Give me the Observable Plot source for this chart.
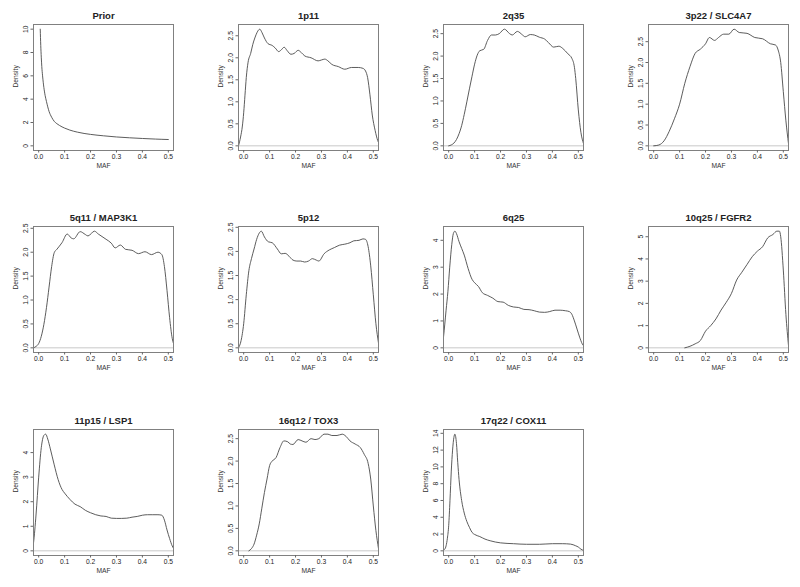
<!DOCTYPE html>
<html><head><meta charset="utf-8">
<script src="https://cdn.jsdelivr.net/npm/d3@7"></script>
<script src="https://cdn.jsdelivr.net/npm/@observablehq/plot@0.6"></script>
<style>
html,body{margin:0;padding:0;background:#fff;}
#chart{position:relative;width:800px;height:587px;overflow:hidden;font-family:"Liberation Sans",Arial,sans-serif;}
.panel{position:absolute;}
</style></head><body><div id="chart"></div>
<script>
const titles = ["Prior","1p11","2q35","3p22 / SLC4A7","5q11 / MAP3K1","5p12","6q25","10q25 / FGFR2","11p15 / LSP1","16q12 / TOX3","17q22 / COX11"];
const xTicks = [0, 0.1, 0.2, 0.3, 0.4, 0.5];

const prior_x = [0.006,0.008,0.01,0.012,0.015,0.02,0.025,0.03,0.04,0.05,0.06,0.07,0.08,0.1,0.12,0.15,0.2,0.25,0.3,0.35,0.4,0.45,0.5];
const prior_y = [10.0,8.6,7.6,6.8,6.0,5.0,4.3,3.8,2.95,2.45,2.1,1.9,1.75,1.52,1.35,1.17,0.98,0.86,0.76,0.69,0.63,0.58,0.54];

const p1p11_x = [-0.02,-0.012,-0.005,0.0,0.005,0.01,0.017,0.027,0.035,0.043,0.052,0.062,0.07,0.08,0.094,0.11,0.122,0.135,0.145,0.156,0.168,0.182,0.195,0.21,0.222,0.236,0.26,0.287,0.3,0.313,0.325,0.34,0.365,0.39,0.416,0.442,0.46,0.47,0.478,0.487,0.496,0.507,0.517,0.525];
const p1p11_y = [0.0,0.2,0.45,0.75,1.15,1.55,1.9,2.1,2.3,2.45,2.58,2.65,2.58,2.45,2.32,2.28,2.22,2.14,2.18,2.24,2.16,2.08,2.1,2.17,2.12,2.04,2.0,1.93,1.95,1.97,1.93,1.85,1.8,1.74,1.78,1.78,1.76,1.7,1.55,1.16,0.7,0.35,0.12,0.03];

const p2q35_x = [0.0,0.01,0.02,0.03,0.04,0.05,0.06,0.07,0.08,0.09,0.1,0.11,0.12,0.135,0.15,0.165,0.18,0.195,0.215,0.235,0.245,0.265,0.285,0.295,0.315,0.33,0.35,0.37,0.385,0.405,0.425,0.44,0.46,0.475,0.485,0.49,0.5,0.51,0.52];
const p2q35_y = [0.0,0.02,0.06,0.14,0.27,0.45,0.7,0.98,1.27,1.55,1.82,2.02,2.12,2.15,2.35,2.47,2.47,2.5,2.6,2.5,2.47,2.55,2.47,2.43,2.48,2.47,2.42,2.38,2.3,2.2,2.22,2.17,2.05,1.95,1.75,1.5,0.8,0.3,0.05];

const p3p22_x = [0.0,0.02,0.04,0.06,0.08,0.1,0.12,0.14,0.16,0.18,0.2,0.215,0.235,0.25,0.27,0.29,0.31,0.33,0.36,0.39,0.42,0.45,0.47,0.48,0.49,0.5,0.51,0.52];
const p3p22_y = [0.0,0.02,0.12,0.35,0.65,1.0,1.5,1.9,2.22,2.32,2.45,2.6,2.53,2.6,2.68,2.68,2.8,2.72,2.7,2.6,2.57,2.45,2.42,2.3,2.0,1.3,0.6,0.05];

const p5q11_x = [-0.02,-0.01,0.0,0.01,0.02,0.03,0.04,0.05,0.06,0.07,0.09,0.11,0.125,0.135,0.16,0.18,0.19,0.215,0.23,0.26,0.28,0.295,0.315,0.335,0.36,0.385,0.41,0.435,0.46,0.475,0.485,0.495,0.505,0.515,0.525];
const p5q11_y = [0.0,0.03,0.09,0.24,0.49,0.84,1.27,1.7,1.99,2.06,2.2,2.38,2.3,2.28,2.43,2.37,2.34,2.44,2.38,2.27,2.19,2.09,2.15,2.06,2.04,1.97,2.01,1.95,2.0,1.95,1.7,1.2,0.63,0.2,0.03];

const p5p12_x = [-0.02,-0.01,0.0,0.01,0.02,0.03,0.04,0.05,0.06,0.068,0.08,0.095,0.11,0.13,0.145,0.16,0.175,0.19,0.205,0.22,0.235,0.25,0.265,0.28,0.29,0.31,0.33,0.35,0.37,0.39,0.41,0.425,0.445,0.46,0.47,0.48,0.49,0.5,0.51,0.52];
const p5p12_y = [0.0,0.15,0.5,1.1,1.6,1.85,2.05,2.25,2.38,2.42,2.3,2.2,2.18,2.05,1.95,1.96,1.9,1.82,1.8,1.8,1.78,1.8,1.85,1.82,1.8,1.95,2.03,2.08,2.13,2.15,2.18,2.22,2.23,2.26,2.25,2.1,1.7,1.1,0.5,0.1];

const p6q25_x = [-0.025,-0.02,-0.01,-0.003,0.004,0.012,0.018,0.024,0.03,0.04,0.05,0.06,0.075,0.09,0.1,0.115,0.13,0.15,0.17,0.19,0.21,0.23,0.25,0.27,0.29,0.31,0.33,0.35,0.37,0.39,0.41,0.43,0.45,0.465,0.475,0.485,0.495,0.505,0.515,0.525];
const p6q25_y = [0.0,0.4,1.4,2.1,3.0,3.85,4.25,4.34,4.25,3.95,3.7,3.45,2.95,2.55,2.42,2.28,2.05,1.95,1.85,1.72,1.7,1.58,1.52,1.5,1.43,1.42,1.38,1.33,1.32,1.35,1.4,1.4,1.38,1.35,1.25,1.0,0.7,0.4,0.15,0.03];

const p10q25_x = [0.12,0.14,0.16,0.18,0.2,0.22,0.24,0.26,0.28,0.3,0.32,0.34,0.36,0.38,0.4,0.42,0.44,0.46,0.475,0.485,0.49,0.5,0.51,0.52];
const p10q25_y = [0.0,0.07,0.18,0.33,0.75,1.0,1.3,1.7,2.05,2.45,3.05,3.4,3.75,4.1,4.35,4.55,4.95,5.1,5.25,5.25,5.0,3.5,1.5,0.1];

const p11p15_x = [-0.025,-0.02,-0.01,0.0,0.01,0.02,0.027,0.035,0.045,0.06,0.075,0.09,0.1,0.12,0.14,0.16,0.18,0.2,0.22,0.24,0.26,0.28,0.3,0.32,0.34,0.36,0.38,0.4,0.42,0.44,0.46,0.475,0.485,0.495,0.505,0.515,0.525];
const p11p15_y = [0.0,0.32,1.5,3.0,4.2,4.7,4.75,4.55,4.15,3.5,2.9,2.5,2.35,2.1,1.9,1.8,1.65,1.55,1.47,1.42,1.4,1.33,1.32,1.32,1.33,1.37,1.4,1.45,1.47,1.47,1.47,1.45,1.25,0.85,0.5,0.2,0.03];

const p16q12_x = [0.02,0.03,0.04,0.05,0.06,0.07,0.08,0.09,0.1,0.11,0.125,0.14,0.155,0.17,0.18,0.19,0.21,0.225,0.24,0.26,0.275,0.29,0.31,0.325,0.34,0.36,0.38,0.395,0.41,0.43,0.45,0.465,0.48,0.49,0.5,0.51,0.52];
const p16q12_y = [0.0,0.05,0.15,0.35,0.6,0.95,1.3,1.6,1.9,2.0,2.08,2.3,2.45,2.43,2.38,2.37,2.48,2.45,2.42,2.5,2.48,2.5,2.6,2.6,2.57,2.57,2.6,2.55,2.45,2.38,2.3,2.15,1.95,1.6,1.0,0.45,0.05];

const p17q22_x = [-0.025,-0.02,-0.015,-0.01,-0.005,0.0,0.005,0.01,0.015,0.02,0.024,0.03,0.035,0.04,0.05,0.06,0.07,0.08,0.09,0.1,0.12,0.14,0.16,0.18,0.2,0.25,0.3,0.35,0.4,0.44,0.47,0.49,0.5,0.51,0.52];
const p17q22_y = [0.0,0.1,0.2,0.6,1.5,3.0,6.0,9.5,12.0,13.5,13.9,12.8,10.5,8.5,6.0,4.5,3.5,2.8,2.2,1.95,1.7,1.4,1.2,1.05,0.95,0.85,0.78,0.78,0.85,0.85,0.8,0.6,0.45,0.2,0.05];

const ticksHalf = [0, 0.5, 1, 1.5, 2, 2.5];
const ticks0to4 = [0, 1, 2, 3, 4];
const ticks0to5 = [0, 1, 2, 3, 4, 5];
const ticksPrior = [0, 2, 4, 6, 8, 10];
const ticks17 = [0, 2, 4, 6, 8, 10, 12, 14];

const panels = [
  {x: prior_x, y: prior_y, ticks: ticksPrior, fmt: "d", zero: false},
  {x: p1p11_x, y: p1p11_y, ticks: ticksHalf, fmt: ".1f", zero: true},
  {x: p2q35_x, y: p2q35_y, ticks: ticksHalf, fmt: ".1f", zero: true},
  {x: p3p22_x, y: p3p22_y, ticks: ticksHalf, fmt: ".1f", zero: true},
  {x: p5q11_x, y: p5q11_y, ticks: ticksHalf, fmt: ".1f", zero: true},
  {x: p5p12_x, y: p5p12_y, ticks: ticksHalf, fmt: ".1f", zero: true},
  {x: p6q25_x, y: p6q25_y, ticks: ticks0to4, fmt: "d", zero: true},
  {x: p10q25_x, y: p10q25_y, ticks: ticks0to5, fmt: "d", zero: true},
  {x: p11p15_x, y: p11p15_y, ticks: ticks0to4, fmt: "d", zero: true},
  {x: p16q12_x, y: p16q12_y, ticks: ticksHalf, fmt: ".1f", zero: true},
  {x: p17q22_x, y: p17q22_y, ticks: ticks17, fmt: "d", zero: true}
];

const colLeft = [0, 205, 410, 615];
const rowTop = [0, 202, 405];
const chart = document.getElementById("chart");
const font = '"Liberation Sans", Arial, Helvetica, sans-serif';

panels.forEach((p, i) => {
  const n = Math.min(p.x.length, p.y.length);
  const data = d3.range(n).map(j => ({maf: p.x[j], density: p.y[j]}));
  const ymax = d3.max(p.y);
  const svg = Plot.plot({
    width: 185, height: 180,
    marginLeft: 33, marginRight: 12, marginTop: 24, marginBottom: 30,
    style: {fontFamily: font, fontSize: "6.7px", background: "white", color: "#222", overflow: "visible"},
    x: {domain: [-0.02, 0.52]},
    y: {domain: [-0.04 * ymax, 1.04 * ymax]},
    marks: [
      p.zero ? Plot.ruleY([0], {stroke: "#c8c8c8"}) : null,
      Plot.line(data, {x: "maf", y: "density", curve: "monotone-x", stroke: "#4a4a4a", strokeWidth: 0.9, clip: true}),
      Plot.frame({stroke: "#808080"}),
      Plot.axisX({ticks: xTicks, tickFormat: d3.format(".1f"), tickSize: 2.5, tickPadding: 1, label: null, stroke: "#666"}),
      Plot.axisY({ticks: p.ticks, tickFormat: d3.format(p.fmt), tickRotate: -90, tickSize: 2.5, tickPadding: 3, label: null, stroke: "#666"}),
      Plot.text([titles[i]], {text: d => d, frameAnchor: "top", dy: -8.5, lineAnchor: "middle", fontWeight: "bold", fontSize: 9.5, fill: "#222"}),
      Plot.text(["MAF"], {text: d => d, frameAnchor: "bottom", dy: 15, lineAnchor: "middle", fill: "#333"}),
      Plot.text(["Density"], {text: d => d, frameAnchor: "left", dx: -18, rotate: -90, lineAnchor: "middle", fill: "#333"})
    ]
  });
  svg.classList.add("panel");
  svg.style.left = colLeft[i % 4] + "px";
  svg.style.top = rowTop[Math.floor(i / 4)] + "px";
  chart.appendChild(svg);
});
</script></body></html>
